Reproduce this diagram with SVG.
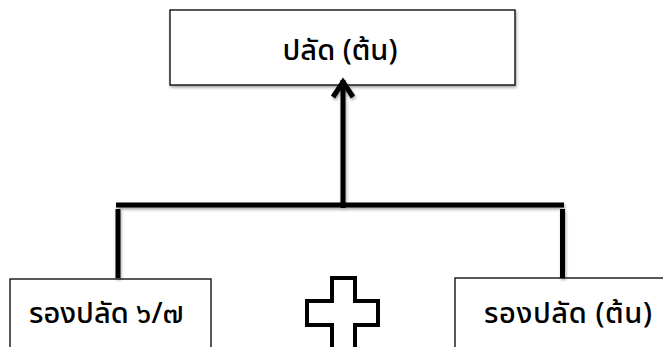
<svg xmlns="http://www.w3.org/2000/svg" width="663" height="347" viewBox="0 0 663 347">
<defs>
<style>
.box{fill:#fff;stroke:#000;stroke-width:1.3}
.lbl{font-family:"Noto Sans Thai","Noto Sans","DejaVu Sans",sans-serif;font-size:29px;font-weight:500;fill:#000}
.conn{stroke:#000;stroke-width:5;fill:none}
</style>
<filter id="sh" x="-10%" y="-10%" width="130%" height="140%">
<feDropShadow dx="1" dy="2" stdDeviation="1.5" flood-color="#000" flood-opacity="0.35"/>
</filter>
</defs>
<rect width="663" height="347" fill="#fff"/>
<g id="top-node">
<rect class="box" x="170" y="10" width="345" height="75" filter="url(#sh)"/>
<text class="lbl" x="340" y="60" text-anchor="middle">ปลัด (ต้น)</text>
</g>
<g id="left-node">
<rect class="box" x="10" y="279" width="201" height="80"/>
<text class="lbl" x="29" y="323">รองปลัด ๖/๗</text>
</g>
<g id="right-node">
<rect class="box" x="455" y="278" width="220" height="80"/>
<text class="lbl" x="484" y="323" textLength="168" lengthAdjust="spacing">รองปลัด (ต้น)</text>
</g>
<g id="plus">
<path d="M332,278 H355 V301 H378 V325 H355 V360 H332 V325 H307 V301 H332 Z" fill="#fff" stroke="#000" stroke-width="4"/>
</g>
<g id="connectors" filter="url(#sh)">
<line class="conn" x1="116" y1="205" x2="564" y2="205"/>
<line class="conn" x1="118" y1="209" x2="118" y2="278"/>
<line class="conn" x1="562.5" y1="209" x2="562.5" y2="278"/>
<line class="conn" x1="343" y1="208" x2="343" y2="80"/>
<polyline class="conn" points="333,97 343,82 353,97" stroke-linejoin="miter"/>
</g>
</svg>
